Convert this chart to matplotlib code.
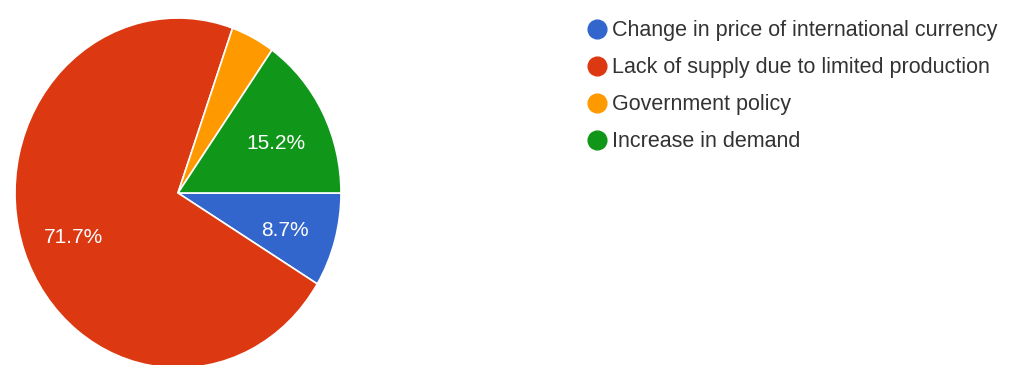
import matplotlib.pyplot as plt
from matplotlib.lines import Line2D

labels = [
    'Change in price of international currency',
    'Lack of supply due to limited production',
    'Government policy',
    'Increase in demand',
]
counts = [4, 33, 2, 7]
colors = ['#3366cc', '#dc3912', '#ff9900', '#109618']

plt.rcParams['font.family'] = ['Liberation Sans', 'DejaVu Sans']

W, H = 1016, 365
fig = plt.figure(figsize=(W / 100, H / 100), dpi=100)
ax = fig.add_axes([0, 0, 1, 1])

# pie is slightly stretched vertically in the reference
cx, cy = 178, 193
rx, ry = 163, 175


def pct(p):
    return f'{p:.1f}%' if p > 5 else ''


wedges, texts, autotexts = ax.pie(
    counts, colors=colors, startangle=0, counterclock=False,
    autopct=pct, pctdistance=0.68,
    wedgeprops=dict(edgecolor='white', linewidth=1.2),
    textprops=dict(color='white', fontsize=15),
)
for t in autotexts:
    x, y = t.get_position()
    t.set_position((x, y - 5 / ry))

ax.set_aspect('auto')
ax.set_xlim(-cx / rx, (W - cx) / rx)
ax.set_ylim(-(H - cy) / ry, cy / ry)
ax.axis('off')

handles = [Line2D([], [], marker='o', linestyle='none', markersize=13.5,
                  markerfacecolor=c, markeredgecolor=c) for c in colors]
fig.legend(handles, labels, loc='upper left', bbox_to_anchor=(566 / W, 1 - 1 / H),
           frameon=False, fontsize=15.5, labelspacing=0.74,
           handletextpad=0.15, handlelength=1.1, labelcolor='#333333')

fig.savefig('out.png', dpi=100)
